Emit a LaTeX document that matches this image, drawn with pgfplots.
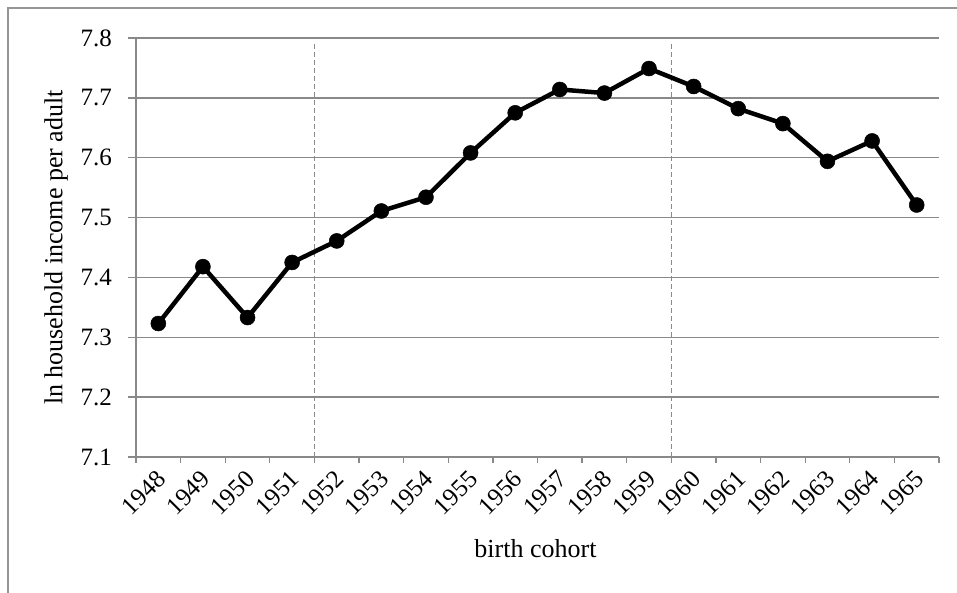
\documentclass[border=0pt]{standalone}
\usepackage{fontspec}
\setmainfont{Liberation Serif}
\usepackage{pgfplots}
\pgfplotsset{compat=1.18}
\definecolor{gridgray}{RGB}{137,137,137}
\begin{document}
\begin{tikzpicture}[x=1pt,y=1pt]
\path[use as bounding box] (0,0) rectangle (957,593);
\draw[color=gridgray!90, line width=1.5pt] (8,0) -- (8,585) -- (957,585);
\begin{axis}[
  at={(136pt,136pt)}, anchor=south west,
  scale only axis, width=803pt, height=419pt,
  xmin=-0.5, xmax=17.5, ymin=7.1, ymax=7.8,
  ytick={7.1,7.2,7.3,7.4,7.5,7.6,7.7,7.8},
  yticklabel style={/pgf/number format/fixed, /pgf/number format/fixed zerofill, /pgf/number format/precision=1, xshift=-16pt, anchor=east, inner sep=0pt},
  /pgf/number format/assume math mode=true,
  xtick={0,...,17},
  xticklabels={1948,1949,1950,1951,1952,1953,1954,1955,1956,1957,1958,1959,1960,1961,1962,1963,1964,1965},
  minor xtick={-0.5,0.5,...,17.5},
  axis x line=bottom, axis y line=left,
  axis line style={-, gridgray, line width=1.3pt},
  tick align=outside,
  major tick length=8pt, minor tick length=6pt,
  every major x tick/.append style={draw=none},
  every minor tick/.append style={gridgray, line width=1.3pt},
  every major y tick/.append style={gridgray, line width=1.3pt},
  ymajorgrids,
  major grid style={gridgray, line width=1.3pt},
  tick label style={font=\fontsize{25}{29}\selectfont},
  xticklabel style={yshift=-10pt, xshift=3pt, rotate=45, anchor=east, inner sep=0pt},
  label style={font=\fontsize{26}{30}\selectfont},
  xlabel={birth cohort},
  xlabel style={at={(axis description cs:0.4975,-0.241)}, anchor=base},
  ylabel={ln household income per adult},
  ylabel style={at={(axis description cs:-0.0996,0.5)}, anchor=center},
  clip=false,
]
\addplot[gridgray, line width=1.3pt, dash pattern=on 5pt off 3pt] coordinates {(3.5,7.1) (3.5,7.792)};
\addplot[gridgray, line width=1.3pt, dash pattern=on 5pt off 3pt] coordinates {(11.5,7.1) (11.5,7.792)};
\addplot[black, line width=4.5pt, line join=round, mark=*, mark size=7.5pt, mark options={solid, fill=black, line width=0.5pt}] coordinates {
(0,7.323) (1,7.418) (2,7.333) (3,7.425) (4,7.461) (5,7.511) (6,7.534) (7,7.608) (8,7.675)
(9,7.714) (10,7.708) (11,7.749) (12,7.719) (13,7.682) (14,7.657) (15,7.594) (16,7.628) (17,7.521)
};
\end{axis}
\end{tikzpicture}
\end{document}
